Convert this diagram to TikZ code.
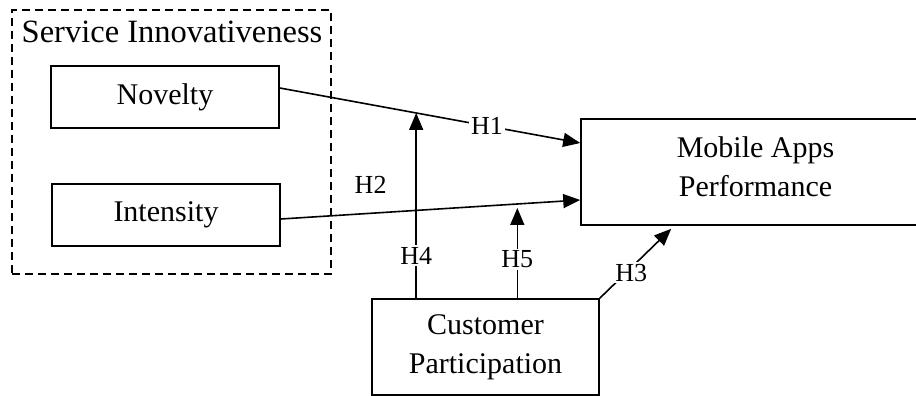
\documentclass[tikz,border=0pt]{standalone}
\usepackage{fontspec}
\setmainfont{Liberation Serif}
\usetikzlibrary{arrows.meta,positioning}

\tikzset{
  construct/.style={draw, line width=1.6pt, minimum width=228pt, minimum height=62pt,
    align=center, font=\fontsize{30}{39}\selectfont},
  group/.style={draw, dash pattern=on 8pt off 5pt, line width=1.5pt},
  hyp/.style={fill=white, inner sep=2pt, font=\fontsize{26}{30}\selectfont},
  link/.style={line width=1.6pt, -{Triangle[length=17pt,width=14pt]}}
}

\begin{document}
\begin{tikzpicture}[x=1pt,y=-1pt]
\useasboundingbox (0,0) rectangle (916,396);
\clip (0,0) rectangle (916,396);
% Nodes
% grouping box and its title
\node[group, minimum width=319pt, minimum height=264pt](si) at (171.5,142){};
\node[anchor=base, font=\fontsize{32.5}{36}\selectfont](title) at (172,43){Service Innovativeness};
% constructs
\node[construct](nov) at (165,97){Novelty};
\node[construct](int) at (166,215){Intensity};
\node[construct, minimum width=349pt, minimum height=106pt, text depth=10pt](map) at (755.5,172){Mobile Apps\\Performance};
\node[construct, minimum width=227pt, minimum height=96pt](cp) at (485.5,347){Customer\\Participation};

% direct effects
\draw[link] ([yshift=9pt]nov.east) -- node[hyp, pos=0.69]{H1} coordinate[pos=0.454](m1) ([yshift=29pt]map.west);
\draw[link] ([yshift=-4pt]int.east) -- node[hyp, pos=0.3, yshift=28pt, fill=none]{H2} coordinate[pos=0.79](m2) ([yshift=-28pt]map.west);
\draw[link] (cp.north east) -- node[hyp, pos=0.37, xshift=5pt]{H3} ([xshift=91pt,yshift=-3pt]map.south west);

% moderation
\draw[link] (cp.north -| m1) -- node[hyp, pos=0.23]{H4} (m1);
\draw[link] (cp.north -| m2) -- node[hyp, pos=0.43]{H5} ([yshift=-4pt]m2);

\end{tikzpicture}
\end{document}
